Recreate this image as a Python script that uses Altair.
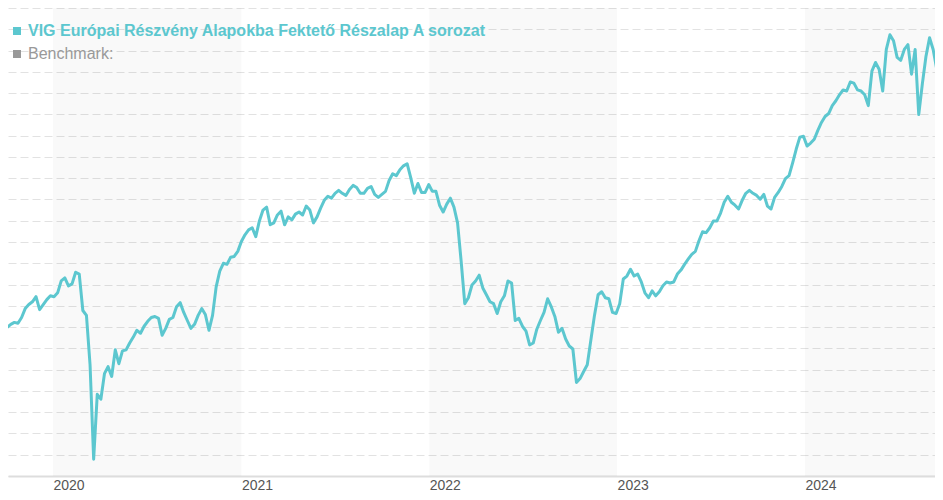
import altair as alt
import pandas as pd

FUND = "VIG Európai Részvény Alapokba Fektető Részalap A sorozat"
BENCH = "Benchmark:"

# weekly closing values (index units), starting 2019-10-04
values = [
    169.9, 171.3, 172.2, 171.8, 174.5, 178.7, 180.6, 181.9, 184.3, 178.2,
    180.6, 182.9, 184.7, 184.3, 186.1, 191.7, 193.1, 189.4, 190.3, 195.8,
    194.9, 177.8, 175.5, 152.3, 107.9, 138.4, 136.1, 148.1, 151.4, 146.8,
    159.3, 152.8, 158.8, 159.3, 162.5, 165.3, 168.5, 167.1, 170.4, 172.7,
    174.5, 175.0, 174.1, 166.2, 169.4, 173.6, 174.5, 179.6, 181.5, 176.9,
    173.1, 169.4, 171.3, 175.5, 178.7, 175.9, 168.5, 175.5, 188.9, 196.3,
    200.0, 199.5, 202.8, 203.2, 205.6, 210.2, 213.4, 215.7, 216.7, 212.5,
    219.9, 225.0, 226.4, 218.1, 219.0, 222.7, 224.5, 218.1, 221.8, 220.4,
    223.1, 224.1, 222.7, 226.9, 225.0, 219.0, 221.8, 225.9, 229.6, 231.5,
    230.6, 232.9, 234.3, 232.9, 231.9, 234.7, 236.6, 235.6, 232.9, 232.9,
    235.2, 236.1, 232.4, 231.0, 232.4, 233.8, 238.9, 242.1, 241.2, 244.0,
    245.8, 246.8, 240.3, 232.9, 237.5, 233.3, 233.3, 237.0, 233.8, 233.8,
    227.3, 224.1, 227.8, 230.6, 226.4, 219.0, 200.9, 181.0, 183.8, 189.8,
    191.7, 194.4, 188.4, 185.2, 181.9, 181.0, 176.4, 181.9, 184.7, 191.7,
    190.7, 173.1, 174.1, 170.4, 168.1, 161.6, 162.5, 169.0, 173.1, 176.9,
    183.3, 179.6, 175.0, 167.6, 169.4, 164.4, 161.1, 159.7, 144.0, 145.8,
    149.1, 152.3, 163.9, 175.5, 185.2, 186.6, 183.8, 183.3, 176.9, 176.4,
    181.0, 192.6, 194.0, 197.2, 194.0, 194.9, 191.2, 186.1, 183.8, 187.0,
    184.7, 186.6, 189.4, 191.2, 190.7, 191.2, 194.9, 196.8, 199.5, 201.9,
    204.2, 205.6, 210.6, 214.8, 214.4, 216.7, 219.9, 219.9, 223.6, 228.7,
    231.5, 228.7, 227.3, 225.5, 229.6, 232.9, 234.3, 232.9, 231.9, 230.1,
    232.4, 226.9, 225.5, 231.0, 233.3, 236.1, 239.8, 241.2, 247.2, 253.7,
    259.3, 259.7, 255.1, 256.5, 258.3, 262.5, 266.2, 269.0, 270.4, 274.1,
    276.4, 279.2, 281.5, 281.0, 285.2, 284.7, 281.5, 281.0, 279.2, 274.1,
    290.3, 294.4, 291.2, 281.0, 300.5, 307.4, 304.6, 296.8, 295.4, 300.5,
    302.8, 288.9, 300.5, 269.9, 284.3, 297.2, 306.0, 300.5, 291.2, 300.5,
    311.1,
]
dates = pd.date_range("2019-10-04", periods=len(values), freq="7D").strftime("%Y-%m-%d")

band_start = ["2020-01-01", "2022-01-01", "2024-01-01"]
band_end = ["2021-01-01", "2023-01-01", "2025-01-01"]
tick_years = [2020, 2021, 2022, 2023, 2024]
grid_values = list(range(100, 321, 10))

TEAL = "#5cc7cf"
GRAY = "#999999"

line_df = pd.DataFrame({"date": dates, "value": values, "series": FUND})
band_df = pd.DataFrame({"start": band_start, "end": band_end})

x_scale = alt.Scale(
    type="utc",
    domain=[alt.DateTime(year=2019, month=10, date=5, hours=14, utc=True),
            alt.DateTime(year=2024, month=9, date=9, hours=14, utc=True)],
)

x_axis = alt.Axis(
    values=[alt.DateTime(year=y, month=1, date=1, utc=True) for y in tick_years],
    format="%Y",
    labelAlign="left",
    labelBaseline="top",
    labelPadding=2,
    labelFontSize=14,
    labelFont="Liberation Sans",
    labelColor="#555555",
    labelFlush=False,
    labelOverlap=False,
    ticks=False,
    grid=False,
    domainColor="#dddddd",
    domainWidth=2,
    title=None,
)

bands = alt.Chart(band_df).mark_rect(color="#000000", opacity=0.022, clip=True).encode(
    x=alt.X("start:T", scale=x_scale, axis=x_axis),
    x2="end:T",
)

line = alt.Chart(line_df).mark_line(strokeWidth=3, strokeJoin="round", clip=True).encode(
    x=alt.X("date:T", scale=x_scale, axis=x_axis),
    y=alt.Y(
        "value:Q",
        scale=alt.Scale(domain=[100, 320], nice=False, zero=False),
        axis=alt.Axis(
            values=grid_values,
            labels=False,
            ticks=False,
            domain=False,
            grid=True,
            gridColor="#e2e2e2",
            gridDash=[8, 4],
            gridWidth=1,
            title=None,
        ),
    ),
    color=alt.Color(
        "series:N",
        scale=alt.Scale(domain=[FUND, BENCH], range=[TEAL, GRAY]),
        legend=alt.Legend(
            orient="none",
            legendX=1,
            legendY=15,
            title=None,
            symbolType="square",
            symbolSize=16,
            symbolStrokeWidth=4,
            labelFontSize=16,
            labelFont="Liberation Sans",
            labelOffset=3,
            rowPadding=3,
            labelLimit=0,
            labelColor=alt.ExprRef(expr="datum.value == 'Benchmark:' ? '#999999' : '" + TEAL + "'"),
            labelFontWeight=alt.ExprRef(expr="datum.value == 'Benchmark:' ? 'normal' : 'bold'"),
        ),
    ),
)

chart = (
    alt.layer(bands, line)
    .properties(
        width=927,
        height=484,
        padding=0,
        autosize=alt.AutoSizeParams(type="fit", contains="padding"),
    )
    .configure_view(stroke=None)
)

chart.save("out.html", embed_options={"renderer": "svg", "actions": False})
